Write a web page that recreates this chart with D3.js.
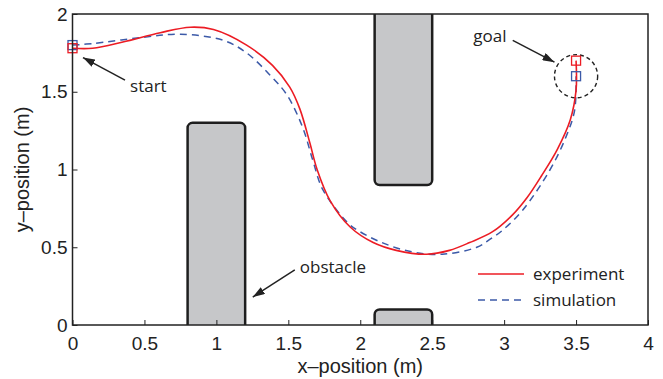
<!DOCTYPE html>
<html>
<head>
<meta charset="utf-8">
<script src="https://cdn.jsdelivr.net/npm/d3@7"></script>
<style>
  body { margin: 0; background: #fff; }
  .tick text { font-family: "Liberation Sans", Arial, sans-serif; font-size: 19px; fill: #222; }
  .note { font-family: "Open Sans", sans-serif; font-size: 17px; fill: #222; }
</style>
</head>
<body>
<div class="chart"></div>
<script>
const margin = {top: 14, right: 15, bottom: 54, left: 72.5};
const W = 663, H = 379;
const w = W - margin.left - margin.right;
const h = H - margin.top - margin.bottom;

// trajectories (x, y in metres)
const experiment = [
  [0, 1.78], [0.14, 1.78], [0.35, 1.82], [0.61, 1.88], [0.82, 1.915], [0.98, 1.90],
  [1.21, 1.80], [1.39, 1.67], [1.51, 1.53], [1.58, 1.39], [1.65, 1.17], [1.70, 1.0],
  [1.79, 0.80], [1.93, 0.63], [2.09, 0.53], [2.25, 0.48], [2.46, 0.455], [2.62, 0.48],
  [2.76, 0.53], [2.92, 0.60], [3.06, 0.71], [3.16, 0.82], [3.26, 0.96], [3.37, 1.13],
  [3.46, 1.32], [3.50, 1.51], [3.50, 1.70]
];
const simulation = [
  [0, 1.80], [0.14, 1.81], [0.49, 1.85], [0.75, 1.87], [1.05, 1.83], [1.21, 1.75],
  [1.37, 1.61], [1.49, 1.48], [1.60, 1.27], [1.67, 1.06], [1.74, 0.87], [1.91, 0.66],
  [1.98, 0.61], [2.15, 0.53], [2.36, 0.47], [2.57, 0.455], [2.81, 0.50], [2.90, 0.55],
  [2.99, 0.61], [3.13, 0.74], [3.32, 1.0], [3.43, 1.21], [3.49, 1.38], [3.50, 1.60]
];
// obstacles: [x0, x1, y0, y1]
const obstacles = [
  [0.8, 1.2, -0.2, 1.3],
  [2.1, 2.5, 0.9, 2.2],
  [2.1, 2.5, -0.2, 0.1]
];
const goal = [3.5, 1.6];
const goalRadius = 0.15;
const xTicks = [0, 0.5, 1, 1.5, 2, 2.5, 3, 3.5, 4];
const yTicks = [0, 0.5, 1, 1.5, 2];
const tickLabel = d => d3.format("")(d);

// annotations: text position and arrow [tail, tip]
const notes = [
  {text: "start", at: [0.40, 1.50], anchor: "start", arrow: [[0.365, 1.575], [0.073, 1.72]]},
  {text: "goal", at: [3.017, 1.82], anchor: "end", arrow: [[3.06, 1.83], [3.35, 1.69]]},
  {text: "obstacle", at: [1.58, 0.334], anchor: "start", arrow: [[1.545, 0.354], [1.253, 0.18]]}
];

const svg = d3.select(".chart")
  .append("svg")
    .attr("width", W)
    .attr("height", H);

const defs = svg.append("defs");
defs.append("clipPath").attr("id", "plot-clip")
  .append("rect").attr("width", w).attr("height", h);
defs.append("marker")
    .attr("id", "head")
    .attr("viewBox", "0 0 12 8")
    .attr("refX", 12).attr("refY", 4)
    .attr("markerWidth", 12).attr("markerHeight", 8)
    .attr("markerUnits", "userSpaceOnUse")
    .attr("orient", "auto")
  .append("path")
    .attr("d", "M0,0 L12,4 L0,8 Z")
    .attr("fill", "#222");

const g = svg.append("g")
  .attr("transform", "translate(" + margin.left + "," + margin.top + ")");

const x = d3.scaleLinear().domain([0, 4]).range([0, w]);
const y = d3.scaleLinear().domain([0, 2]).range([h, 0]);

// obstacles
g.append("g").attr("clip-path", "url(#plot-clip)")
  .selectAll("rect")
  .data(obstacles)
  .enter()
  .append("rect")
    .attr("x", d => x(d[0]))
    .attr("y", d => y(d[3]))
    .attr("width", d => x(d[1]) - x(d[0]))
    .attr("height", d => y(d[2]) - y(d[3]))
    .attr("rx", 5)
    .attr("fill", "#c6c7c9")
    .attr("stroke", "#1e1e1e")
    .attr("stroke-width", 2.5);

// goal circle
g.append("circle")
  .attr("cx", x(goal[0]))
  .attr("cy", y(goal[1]))
  .attr("r", x(goalRadius) - x(0))
  .attr("fill", "none")
  .attr("stroke", "#222")
  .attr("stroke-width", 1.4)
  .attr("stroke-dasharray", "4,3");

const line = d3.line()
  .x(d => x(d[0]))
  .y(d => y(d[1]))
  .curve(d3.curveCatmullRom.alpha(0.5));

g.append("path")
  .datum(simulation)
  .attr("d", line)
  .attr("fill", "none")
  .attr("stroke", "#3c5aa8")
  .attr("stroke-width", 1.5)
  .attr("stroke-dasharray", "7,5");

g.append("path")
  .datum(experiment)
  .attr("d", line)
  .attr("fill", "none")
  .attr("stroke", "#ec1c24")
  .attr("stroke-width", 1.6);

// start / end squares
const sq = 9;
const squares = [
  [simulation[0], "#3c5aa8"], [experiment[0], "#ec1c24"],
  [simulation[simulation.length - 1], "#3c5aa8"], [experiment[experiment.length - 1], "#ec1c24"]
];
g.selectAll(".sq")
  .data(squares)
  .enter()
  .append("rect")
    .attr("class", "sq")
    .attr("x", d => x(d[0][0]) - sq / 2)
    .attr("y", d => y(d[0][1]) - sq / 2)
    .attr("width", sq)
    .attr("height", sq)
    .attr("fill", "none")
    .attr("stroke", d => d[1])
    .attr("stroke-width", 1.3);

// annotations
notes.forEach(n => {
  g.append("line")
    .attr("x1", x(n.arrow[0][0])).attr("y1", y(n.arrow[0][1]))
    .attr("x2", x(n.arrow[1][0])).attr("y2", y(n.arrow[1][1]))
    .attr("stroke", "#222")
    .attr("stroke-width", 1.5)
    .attr("marker-end", "url(#head)");
  g.append("text")
    .attr("class", "note")
    .attr("x", x(n.at[0]))
    .attr("y", y(n.at[1]))
    .attr("text-anchor", n.anchor)
    .text(n.text);
});

// axes (ticks inward, bottom + left only)
g.append("g")
  .attr("transform", "translate(0," + h + ")")
  .call(d3.axisBottom(x).tickValues(xTicks).tickFormat(tickLabel).tickSizeInner(-5).tickSizeOuter(0).tickPadding(12))
  .call(a => a.select(".domain").remove())
  .selectAll("line").attr("stroke", "#222");

g.append("g")
  .call(d3.axisLeft(y).tickValues(yTicks).tickFormat(tickLabel).tickSizeInner(-5).tickSizeOuter(0).tickPadding(5))
  .call(a => a.select(".domain").remove())
  .selectAll("line").attr("stroke", "#222");

// box
g.append("rect")
  .attr("width", w)
  .attr("height", h)
  .attr("fill", "none")
  .attr("stroke", "#222")
  .attr("stroke-width", 1.5);

// legend
const legend = g.append("g").attr("transform", "translate(" + (478 - margin.left) + "," + (274 - margin.top) + ")");
[["experiment", "#ec1c24", null], ["simulation", "#3c5aa8", "7,5"]].forEach((d, i) => {
  legend.append("line")
    .attr("x1", 0).attr("x2", 46)
    .attr("y1", i * 26).attr("y2", i * 26)
    .attr("stroke", d[1])
    .attr("stroke-width", 1.6)
    .attr("stroke-dasharray", d[2]);
  legend.append("text")
    .attr("class", "note")
    .attr("x", 55)
    .attr("y", i * 26 + 6)
    .text(d[0]);
});

// axis titles
svg.append("text")
  .attr("x", margin.left + w / 2)
  .attr("y", 373)
  .attr("text-anchor", "middle")
  .style("font-family", "Liberation Sans, Arial, sans-serif")
  .style("font-size", "20px")
  .style("fill", "#222")
  .text("x\u2013position (m)");

svg.append("text")
  .attr("transform", "rotate(-90)")
  .attr("x", -(margin.top + h / 2))
  .attr("y", 29)
  .attr("text-anchor", "middle")
  .style("font-family", "Liberation Sans, Arial, sans-serif")
  .style("font-size", "20px")
  .style("fill", "#222")
  .text("y\u2013position (m)");
</script>
</body>
</html>
